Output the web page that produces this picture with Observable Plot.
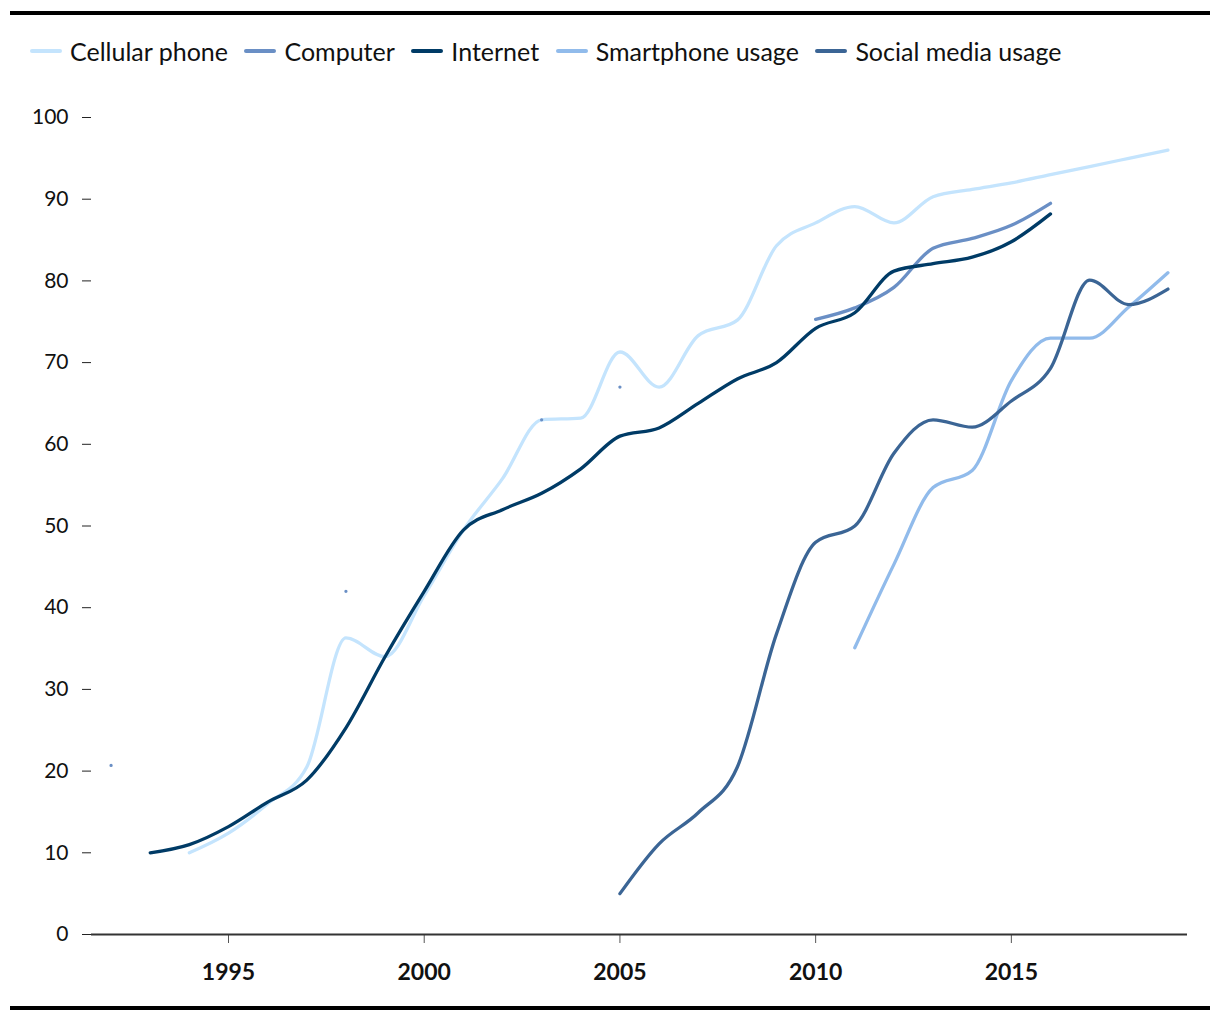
<!DOCTYPE html>
<html>
<head>
<meta charset="utf-8">
<script src="https://cdn.jsdelivr.net/npm/d3@7"></script>
<script src="https://cdn.jsdelivr.net/npm/@observablehq/plot@0.6"></script>
<style>
  html, body { margin: 0; padding: 0; background: #fff; }
  #wrap { position: relative; width: 1220px; height: 1020px; font-family: "Source Sans Pro", Lato, "Noto Sans", sans-serif; color: #111; }
  .rule { position: absolute; left: 10px; width: 1200px; height: 4px; background: #000; }
  #legend { position: absolute; top: 36px; left: 30px; display: flex; align-items: center; font-size: 25px; white-space: nowrap; }
  .item { display: flex; align-items: center; margin-right: 16.5px; }
  .sw { width: 32px; height: 3.5px; border-radius: 2px; margin-right: 8px; }
  #chart { position: absolute; top: 85px; left: 0; }
</style>
</head>
<body>
<div id="wrap">
  <div class="rule" style="top:11px"></div>
  <div id="legend"></div>
  <div id="chart"></div>
  <div class="rule" style="top:1006px"></div>
</div>
<script>
const seriesNames = ["Cellular phone", "Computer", "Internet", "Smartphone usage", "Social media usage"];
const seriesColors = ["#c4e4fd", "#6a8fc5", "#003b66", "#91bbeb", "#3b6595"];

const cellularYears = [1994,1995,1996,1997,1998,1999,2000,2001,2002,2003,2004,2005,2006,2007,2008,2009,2010,2011,2012,2013,2014,2015,2016,2017,2018,2019];
const cellularValues = [10,12.4,16,20.5,36.3,34,41.5,49.5,55.8,63,63.2,71.3,67,73.3,75.2,84.3,87.1,89.1,87.1,90.3,91.2,92,93,94,95,96];

const computerYears = [1992,1993,1994,1995,1996,1997,1998,1999,2000,2001,2002,2003,2004,2005,2006,2007,2008,2009,2010,2011,2012,2013,2014,2015,2016];
const computerValues = [20.7,null,null,null,null,null,42,null,null,null,null,63,null,67,null,null,null,null,75.3,76.7,79.2,84,85.2,86.8,89.5];

const internetYears = [1993,1994,1995,1996,1997,1998,1999,2000,2001,2002,2003,2004,2005,2006,2007,2008,2009,2010,2011,2012,2013,2014,2015,2016];
const internetValues = [10,11,13.2,16.2,18.9,25.3,34,42,49.5,52,54,57,61,62,65,68,70,74.2,76.1,81.2,82.1,82.9,84.8,88.2];

const smartphoneYears = [2011,2012,2013,2014,2015,2016,2017,2018,2019];
const smartphoneValues = [35.1,45.3,54.7,56.8,67.8,73,73,76.8,81];

const socialYears = [2005,2006,2007,2008,2009,2010,2011,2012,2013,2014,2015,2016,2017,2018,2019];
const socialValues = [5,11.1,14.9,20.5,36.8,48,50,58.9,63,62.1,65.3,69.3,80.1,77.1,79];

const xTicks = [1995, 2000, 2005, 2010, 2015];
const yTicks = [0,10,20,30,40,50,60,70,80,90,100];

const allYears = [cellularYears, computerYears, internetYears, smartphoneYears, socialYears];
const allValues = [cellularValues, computerValues, internetValues, smartphoneValues, socialValues];
const data = [];
seriesNames.forEach((name, i) => {
  allYears[i].forEach((yr, j) => data.push({series: name, year: yr, value: allValues[i][j]}));
});

// legend
const legend = document.getElementById("legend");
seriesNames.forEach((name, i) => {
  const it = document.createElement("div");
  it.className = "item";
  it.innerHTML = `<span class="sw" style="background:${seriesColors[i]}"></span><span>${name}</span>`;
  legend.appendChild(it);
});

const chart = Plot.plot({
  width: 1220,
  height: 920,
  marginTop: 32,
  marginBottom: 71,
  marginLeft: 91,
  marginRight: 33,
  style: {fontFamily: '"Source Sans Pro", Lato, "Noto Sans", sans-serif', fontSize: "21px", color: "#111", background: "#fff"},
  x: {domain: [1991.5, 2019.5]},
  y: {domain: [0, 100]},
  color: {domain: seriesNames, range: seriesColors},
  marks: [
    Plot.axisY({ticks: yTicks, tickSize: 9, tickPadding: 14, fontSize: 21, label: null, stroke: "#222"}),
    Plot.axisX({ticks: xTicks, tickFormat: "d", tickSize: 9, tickPadding: 20, fontSize: 23, fontWeight: "bold", label: null, stroke: "#555"}),
    Plot.ruleY([0], {stroke: "#333", strokeWidth: 2}),
    Plot.line(data, {x: "year", y: "value", z: "series", stroke: "series", strokeWidth: 3.3, curve: "monotone-x", strokeLinecap: "round"})
  ]
});
document.getElementById("chart").appendChild(chart);
</script>
</body>
</html>
